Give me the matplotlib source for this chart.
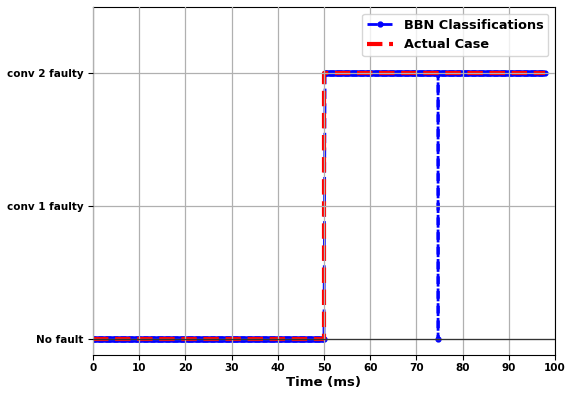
import numpy as np
import matplotlib
matplotlib.use("Agg")
import matplotlib.pyplot as plt

# --- data ---
class_labels = ["No fault", "conv 1 faulty", "conv 2 faulty"]
x_ticks = [0, 10, 20, 30, 40, 50, 60, 70, 80, 90, 100]

# BBN classification: sampled every 0.25 ms, class level per segment start
bbn_step = 0.25
bbn_end = 97.75
bbn_seg_start = [0.0, 50.25]
bbn_seg_level = [0, 2]
# single misclassified sample (time, level)
bbn_glitch_t = 74.7
bbn_glitch_level = 0

# Actual case (step points)
actual_t = [0.0, 50.0, 50.0, 97.75]
actual_y = [0, 0, 2, 2]

bbn_t = list(np.arange(0, bbn_end + 1e-9, bbn_step))
bbn_y = []
for t in bbn_t:
    lvl = 0
    for s, l in zip(bbn_seg_start, bbn_seg_level):
        if t >= s - 1e-9:
            lvl = l
    bbn_y.append(lvl)
# insert the glitch as a spike at one instant
idx = next(i for i, t in enumerate(bbn_t) if t > bbn_glitch_t)
prev_level = bbn_y[idx - 1]
bbn_t[idx:idx] = [bbn_glitch_t, bbn_glitch_t, bbn_glitch_t]
bbn_y[idx:idx] = [prev_level, bbn_glitch_level, prev_level]

fig = plt.figure(figsize=(5.68, 3.95), dpi=100)
ax = fig.add_axes([0.1637, 0.1013, 0.8133, 0.8807])

ax.plot(bbn_t, bbn_y, 'b--', marker='.', markersize=7, linewidth=2,
        label='BBN Classifications')
ax.plot(actual_t, actual_y, 'r--', linewidth=3, label='Actual Case')
ax.axhline(0, color='#333333', linewidth=0.9, zorder=3)

ax.set_xlim(0, 100)
ax.set_ylim(-0.12, 2.5)
ax.set_xticks(x_ticks)
ax.set_yticks([0, 1, 2])
ax.set_yticklabels(class_labels)
ax.tick_params(axis='x', pad=2.5)
for lab in ax.get_xticklabels() + ax.get_yticklabels():
    lab.set_fontweight('bold')
    lab.set_fontsize(7.5)
ax.set_xlabel('Time (ms)', fontweight='bold', fontsize=9.5, labelpad=2)
ax.set_axisbelow(False)
ax.grid(True, color='#b0b0b0', linewidth=0.9)

leg = ax.legend(loc='upper right', prop={'weight': 'bold', 'size': 9.3})

fig.savefig('out.png', dpi=100)
